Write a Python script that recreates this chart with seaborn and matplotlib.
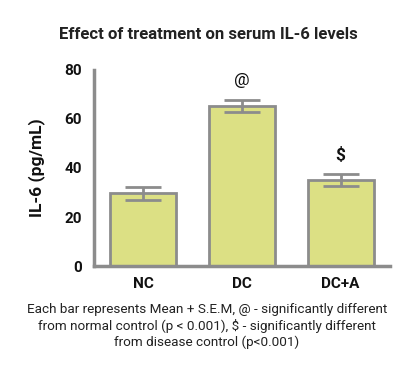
import numpy as np
import pandas as pd
import matplotlib.pyplot as plt
import seaborn as sns

groups = ['NC', 'DC', 'DC+A']
means = [29.6, 65.4, 35.0]
sems = [2.5, 2.5, 2.5]
marks = ['', '@', '$']

df = pd.DataFrame({'group': groups, 'il6': means})

sns.set_style('white')
plt.rcParams['font.family'] = ['Roboto', 'DejaVu Sans']

bar_color = '#dce084'
edge = '#8c8c8c'

fig = plt.figure(figsize=(4.16, 3.77), dpi=100)
ax = fig.add_axes([0.226, 0.2944, 0.7115, 0.52])

sns.barplot(data=df, x='group', y='il6', ax=ax, color=bar_color,
            width=0.67, edgecolor=edge, linewidth=2, saturation=1, errorbar=None)
ax.errorbar(range(len(groups)), means, yerr=sems, fmt='none', ecolor=edge,
            elinewidth=2, capsize=12.8, capthick=2, zorder=5)

# significance marks above the error bars
for i, (m, s, t) in enumerate(zip(means, sems, marks)):
    if t:
        ax.text(i, m + s + 8, t, ha='center', va='center', fontsize=12.5,
                fontweight='bold' if t == '$' else 'normal', color='#111111')

ax.set_xlim(-0.5, 2.5)
ax.set_ylim(0, 80)
ax.set_yticks([0, 20, 40, 60, 80])
ax.set_xlabel('')
ax.set_ylabel('IL-6 (pg/mL)', fontsize=12.5, fontweight='bold', labelpad=14, color='#111111')
ax.set_title('Effect of treatment on serum IL-6 levels', fontsize=12,
             fontweight='bold', pad=22, color='#222222', x=0.385)

for side in ['top', 'right']:
    ax.spines[side].set_visible(False)
for side in ['left', 'bottom']:
    ax.spines[side].set_color(edge)
    ax.spines[side].set_linewidth(2.5)

ax.tick_params(axis='both', colors=edge, width=2, length=5, direction='out',
               labelsize=11, labelcolor='#111111')
ax.tick_params(axis='x', pad=3)
for lab in ax.get_xticklabels() + ax.get_yticklabels():
    lab.set_fontweight('bold')

fig.text(0.497, 0.075,
         'Each bar represents Mean + S.E.M, @ - significantly different\n'
         'from normal control (p < 0.001), $ - significantly different\n'
         'from disease control (p<0.001)',
         ha='center', va='bottom', fontsize=9.7, color='#222222', linespacing=1.25)

fig.savefig('out.png', dpi=100)
